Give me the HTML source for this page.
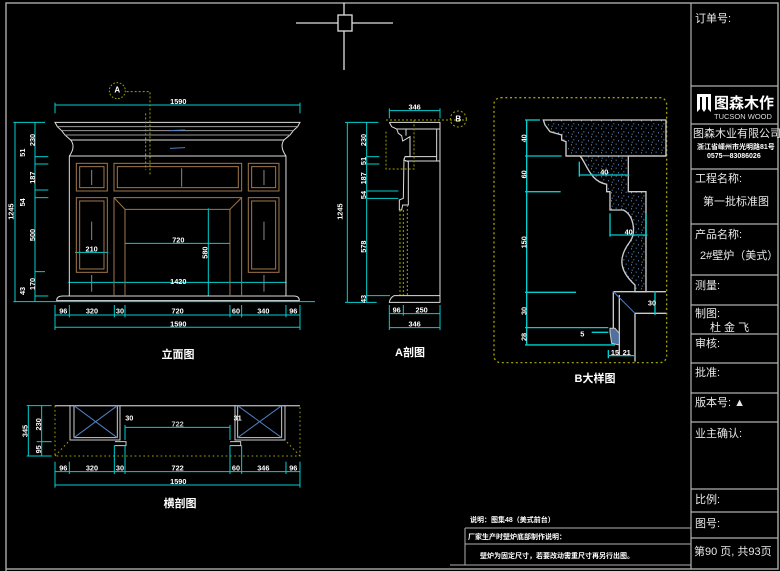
<!DOCTYPE html>
<html><head><meta charset="utf-8"><style>
html,body{margin:0;padding:0;background:#000;}
svg{display:block;}
text{font-family:"Liberation Sans","Noto Sans CJK SC",sans-serif;}
.tb{fill:#e8e8e8;font-size:11px;}
</style></head><body>
<svg width="780" height="571" viewBox="0 0 780 571" xmlns="http://www.w3.org/2000/svg">
<rect width="780" height="571" fill="#000"/>
<!-- frame -->
<path d="M6,571 V3 H778 V569 H6" fill="none" stroke="#a0a0a0" stroke-width="1.5"/>
<!-- crosshair -->
<g stroke="#e0e0e0" stroke-width="1.3" fill="none">
<line x1="344" y1="3" x2="344" y2="70"/><line x1="296" y1="23" x2="393" y2="23"/>
<rect x="338" y="15" width="14" height="16" fill="#000"/>
</g>

<!-- title block -->
<g stroke="#b0b0b0" stroke-width="1.2" fill="none">
<line x1="691" y1="3" x2="691" y2="569"/>
<line x1="691" y1="86" x2="778" y2="86"/><line x1="691" y1="124" x2="778" y2="124"/>
<line x1="691" y1="169" x2="778" y2="169"/><line x1="691" y1="224" x2="778" y2="224"/>
<line x1="691" y1="275" x2="778" y2="275"/><line x1="691" y1="305" x2="778" y2="305"/>
<line x1="691" y1="334" x2="778" y2="334"/><line x1="691" y1="363" x2="778" y2="363"/>
<line x1="691" y1="393" x2="778" y2="393"/><line x1="691" y1="422" x2="778" y2="422"/>
<line x1="691" y1="489" x2="778" y2="489"/><line x1="691" y1="512" x2="778" y2="512"/>
<line x1="691" y1="538" x2="778" y2="538"/>
</g>
<text class="tb" x="695" y="22">订单号:</text>
<path d="M697,94 h14 v18 l-3,-3 v-12 h-2 v12 l-2,3 l-2,-3 v-12 h-2 v12 l-3,3z" fill="#fff"/>
<text x="714" y="108" fill="#fff" font-size="15" font-weight="bold">图森木作</text>
<text x="714" y="119" fill="#ddd" font-size="7.5">TUCSON WOOD</text>
<text class="tb" x="693" y="137">图森木业有限公司</text>
<text x="697" y="149" fill="#fff" font-size="7" font-weight="bold">浙江省嵊州市光明路81号</text>
<text x="707" y="158" fill="#fff" font-size="7" font-weight="bold">0575—83086026</text>
<text class="tb" x="695" y="182">工程名称:</text>
<text class="tb" x="703" y="205">第一批标准图</text>
<text class="tb" x="695" y="238">产品名称:</text>
<text class="tb" x="700" y="259">2#壁炉（美式）</text>
<text class="tb" x="695" y="289">测量:</text>
<text class="tb" x="695" y="317">制图:</text>
<text class="tb" x="710" y="331">杜 金 飞</text>
<text class="tb" x="695" y="347">审核:</text>
<text class="tb" x="695" y="376">批准:</text>
<text class="tb" x="695" y="406">版本号: ▲</text>
<text class="tb" x="695" y="437">业主确认:</text>
<text class="tb" x="695" y="503">比例:</text>
<text class="tb" x="695" y="527">图号:</text>
<text class="tb" x="694" y="555">第90 页, 共93页</text>

<!-- notes -->
<g stroke="#b0b0b0" stroke-width="1" fill="none">
<line x1="465" y1="528" x2="691" y2="528"/><line x1="465" y1="544" x2="691" y2="544"/>
<line x1="450" y1="565" x2="691" y2="565"/><line x1="465" y1="528" x2="465" y2="565"/>
</g>
<text x="470" y="522" fill="#fff" font-size="7" font-weight="bold">说明：图集48（美式前台）</text>
<text x="468" y="539" fill="#fff" font-size="7" font-weight="bold">厂家生产时壁炉底部制作说明：</text>
<text x="480" y="558" fill="#fff" font-size="7" font-weight="bold">壁炉为固定尺寸，若要改动需重尺寸再另行出图。</text>

<!-- FRONT ELEVATION (zoom coords) -->
<g transform="translate(0,80) scale(0.3333)">
<g stroke="#00d0d0" stroke-width="3" fill="none">
<line x1="165" y1="75" x2="900" y2="75"/><line x1="165" y1="68" x2="165" y2="100"/><line x1="900" y1="68" x2="900" y2="100"/>
<line x1="45" y1="127" x2="45" y2="665"/><line x1="105" y1="127" x2="105" y2="665"/>
<line x1="40" y1="127" x2="135" y2="127"/><line x1="105" y1="230" x2="145" y2="230"/><line x1="105" y1="252" x2="145" y2="252"/>
<line x1="105" y1="330" x2="145" y2="330"/><line x1="105" y1="353" x2="145" y2="353"/><line x1="105" y1="575" x2="135" y2="575"/>
<line x1="105" y1="648" x2="145" y2="648"/><line x1="40" y1="665" x2="945" y2="665"/>
<line x1="165" y1="705" x2="900" y2="705"/><line x1="165" y1="742" x2="900" y2="742"/>
<line x1="165" y1="675" x2="165" y2="750"/><line x1="900" y1="675" x2="900" y2="750"/>
<line x1="208" y1="675" x2="208" y2="712"/><line x1="343" y1="675" x2="343" y2="712"/><line x1="375" y1="675" x2="375" y2="712"/>
<line x1="690" y1="675" x2="690" y2="712"/><line x1="725" y1="675" x2="725" y2="712"/><line x1="858" y1="675" x2="858" y2="712"/>
<line x1="375" y1="490" x2="690" y2="490"/><line x1="625" y1="385" x2="625" y2="648"/>
<line x1="205" y1="607" x2="860" y2="607"/><line x1="225" y1="517" x2="325" y2="517"/>
</g>
<g stroke="#ddd" stroke-width="3" fill="none">
<path d="M165,127 L900,127 L893,140 L880,152 L870,165 L852,180 Q838,200 858,228 L858,648 L208,648 L208,228 Q228,200 212,180 L195,165 L185,152 L172,140 Z"/>
<line x1="172" y1="140" x2="893" y2="140" stroke="#999"/><line x1="185" y1="152" x2="880" y2="152" stroke="#999"/>
<line x1="195" y1="165" x2="870" y2="165" stroke="#999"/><line x1="212" y1="180" x2="852" y2="180"/>
<line x1="208" y1="228" x2="858" y2="228"/>
<path d="M170,662 Q170,648 188,648 L882,648 Q898,648 898,662 Z"/>
</g>
<g stroke="#a0784c" stroke-width="3" fill="none">
<rect x="229" y="250" width="93" height="83"/><rect x="239" y="260" width="73" height="63"/>
<rect x="342" y="250" width="383" height="83"/><rect x="352" y="260" width="363" height="63"/>
<rect x="745" y="250" width="92" height="83"/><rect x="755" y="260" width="72" height="63"/>
<rect x="229" y="353" width="93" height="224"/><rect x="239" y="363" width="73" height="204"/>
<rect x="745" y="353" width="92" height="224"/><rect x="755" y="363" width="72" height="204"/>
<path d="M342,648 V353 H725 V648"/><path d="M375,648 V388 H690 V648"/>
<path d="M342,353 L375,388 M725,353 L690,388"/>
</g>
<g stroke="#888" stroke-width="3"><line x1="275" y1="270" x2="275" y2="315"/><line x1="545" y1="265" x2="545" y2="320"/><line x1="792" y1="270" x2="792" y2="315"/><line x1="275" y1="425" x2="275" y2="480"/><line x1="792" y1="425" x2="792" y2="480"/><line x1="275" y1="585" x2="275" y2="635"/><line x1="792" y1="585" x2="792" y2="635"/></g>
<g stroke="#5080c0" stroke-width="3"><line x1="510" y1="152" x2="555" y2="150"/><line x1="510" y1="205" x2="555" y2="203"/></g>
<path d="M380,35 H450 V285" stroke="#a0a000" stroke-width="3" stroke-dasharray="6,6" fill="none"/>
<line x1="437" y1="100" x2="437" y2="270" stroke="#a0a000" stroke-width="3" stroke-dasharray="6,6"/>
<circle cx="352" cy="32" r="24" stroke="#a0a000" stroke-width="3" stroke-dasharray="5,5" fill="none"/>
<text x="352" y="38" fill="#fff" font-size="24" font-weight="bold" text-anchor="middle">A</text>
<g fill="#fff" font-size="22" font-weight="bold" text-anchor="middle">
<text x="535" y="72">1590</text><text x="535" y="612">1420</text><text x="535" y="488">720</text><text x="275" y="515">210</text>
<text x="190" y="700">96</text><text x="276" y="700">320</text><text x="360" y="700">30</text><text x="533" y="700">720</text><text x="708" y="700">60</text><text x="790" y="700">340</text><text x="880" y="700">96</text>
<text x="535" y="740">1590</text>
<text transform="translate(40,395) rotate(-90)">1245</text><text transform="translate(105,180) rotate(-90)">230</text>
<text transform="translate(105,293) rotate(-90)">187</text><text transform="translate(105,465) rotate(-90)">500</text>
<text transform="translate(105,612) rotate(-90)">170</text><text transform="translate(75,218) rotate(-90)">51</text>
<text transform="translate(75,367) rotate(-90)">54</text><text transform="translate(75,633) rotate(-90)">43</text>
<text transform="translate(623,518) rotate(-90)">580</text>
</g>
</g>
<text x="178" y="358" fill="#fff" font-size="11" font-weight="bold" text-anchor="middle">立面图</text>

<!-- A SECTION -->
<g transform="translate(330,95) scale(0.3333)">
<g stroke="#00d0d0" stroke-width="3" fill="none">
<line x1="178" y1="47" x2="330" y2="47"/><line x1="178" y1="40" x2="178" y2="70"/><line x1="330" y1="40" x2="330" y2="70"/>
<line x1="52" y1="82" x2="52" y2="622"/><line x1="110" y1="82" x2="110" y2="622"/>
<line x1="45" y1="82" x2="145" y2="82"/><line x1="110" y1="185" x2="148" y2="185"/><line x1="110" y1="207" x2="148" y2="207"/>
<line x1="110" y1="288" x2="205" y2="288"/><line x1="110" y1="310" x2="205" y2="310"/><line x1="110" y1="602" x2="180" y2="602"/>
<line x1="45" y1="622" x2="140" y2="622"/>
<line x1="178" y1="656" x2="330" y2="656"/><line x1="178" y1="698" x2="330" y2="698"/>
<line x1="178" y1="630" x2="178" y2="705"/><line x1="330" y1="630" x2="330" y2="705"/><line x1="220" y1="630" x2="220" y2="662"/>
</g>
<g stroke="#ddd" stroke-width="3" fill="none">
<path d="M178,82 H330 V622 H178 Q180,608 192,602 H330"/>
<path d="M178,82 L185,95 L200,102 L205,115 L215,122 L218,138 L240,125 L240,185 L225,185 L222,195 L235,200 L235,330 L218,330 L215,345 L208,345 L208,315 L220,310 L222,190"/>
<line x1="200" y1="102" x2="330" y2="102"/><line x1="320" y1="102" x2="320" y2="198"/><line x1="225" y1="198" x2="330" y2="198"/>
<line x1="225" y1="185" x2="320" y2="185"/><line x1="228" y1="102" x2="228" y2="122"/>
</g>
<g stroke="#a0a000" stroke-width="3" fill="none" stroke-dasharray="6,6">
<path d="M168,75 H410 M168,110 V222 H252 V75"/><line x1="210" y1="345" x2="210" y2="600"/><line x1="220" y1="345" x2="220" y2="600"/><line x1="232" y1="330" x2="232" y2="600"/>
<circle cx="385" cy="72" r="24"/>
</g>
<text x="385" y="80" fill="#fff" font-size="24" font-weight="bold" text-anchor="middle">B</text>
<g fill="#fff" font-size="22" font-weight="bold" text-anchor="middle">
<text x="254" y="44">346</text><text x="200" y="652">96</text><text x="275" y="652">250</text><text x="254" y="695">346</text>
<text transform="translate(38,350) rotate(-90)">1245</text><text transform="translate(108,135) rotate(-90)">230</text>
<text transform="translate(108,250) rotate(-90)">187</text><text transform="translate(108,455) rotate(-90)">578</text>
<text transform="translate(108,198) rotate(-90)">51</text><text transform="translate(108,300) rotate(-90)">54</text><text transform="translate(108,612) rotate(-90)">43</text>
</g>
</g>
<text x="410" y="356" fill="#fff" font-size="11" font-weight="bold" text-anchor="middle">A剖图</text>

<!-- B DETAIL -->
<defs><pattern id="st" width="30" height="24" patternUnits="userSpaceOnUse">
<rect width="30" height="24" fill="#000"/>
<rect x="3" y="4" width="3" height="3" fill="#6aa0e0"/><rect x="17" y="2" width="3" height="3" fill="#6aa0e0"/>
<rect x="10" y="13" width="3" height="3" fill="#6aa0e0"/><rect x="24" y="16" width="3" height="3" fill="#6aa0e0"/>
<rect x="5" y="20" width="3" height="3" fill="#6aa0e0"/></pattern></defs>
<g transform="translate(490,95) scale(0.3333)">
<rect x="12" y="8" width="518" height="795" rx="20" stroke="#a0a000" stroke-width="4" stroke-dasharray="6,8" fill="none"/>
<path d="M160,75 L528,75 L528,183 L415,183 L415,290 L468,290 L468,590 L435,590 L435,570 C380,520 390,480 420,440 C440,410 430,360 400,345 L360,345 L360,290 L350,290 L350,268 C300,260 290,205 270,183 L228,183 L228,140 L215,135 L215,120 L180,110 L165,90 Z" fill="url(#st)" stroke="#ccc" stroke-width="4"/>
<line x1="528" y1="183" x2="228" y2="183" stroke="#ccc" stroke-width="4"/>
<g stroke="#ccc" stroke-width="4" fill="none">
<path d="M370,590 H528 M435,655 H528 M370,590 V700 M388,600 V780 M435,655 V800"/>
</g>
<line x1="370" y1="590" x2="435" y2="655" stroke="#5080c0" stroke-width="3"/>
<path d="M360,700 L375,700 L388,715 L388,750 L365,745 L360,712 Z" fill="#5070a0" stroke="#ccc" stroke-width="3"/>
<g stroke="#00d0d0" stroke-width="4" fill="none">
<line x1="110" y1="75" x2="110" y2="750"/><line x1="105" y1="75" x2="150" y2="75"/>
<line x1="105" y1="183" x2="215" y2="183"/><line x1="105" y1="290" x2="212" y2="290"/><line x1="105" y1="592" x2="258" y2="592"/>
<line x1="105" y1="698" x2="355" y2="698"/><line x1="105" y1="750" x2="375" y2="750"/><line x1="305" y1="712" x2="355" y2="712"/>
<line x1="268" y1="240" x2="418" y2="240"/><line x1="268" y1="200" x2="268" y2="245"/>
<line x1="360" y1="420" x2="472" y2="420"/><line x1="360" y1="355" x2="360" y2="425"/><line x1="468" y1="355" x2="468" y2="425"/>
<line x1="495" y1="588" x2="495" y2="660"/>
<line x1="355" y1="782" x2="435" y2="782"/><line x1="355" y1="765" x2="355" y2="790"/>
</g>
<g fill="#fff" font-size="22" font-weight="bold" text-anchor="middle">
<text transform="translate(110,130) rotate(-90)">40</text><text transform="translate(110,238) rotate(-90)">60</text>
<text transform="translate(110,442) rotate(-90)">150</text><text transform="translate(110,648) rotate(-90)">30</text>
<text transform="translate(110,726) rotate(-90)">28</text>
<text x="343" y="238">40</text><text x="416" y="418">40</text><text x="486" y="632">30</text>
<text x="277" y="725">5</text><text x="375" y="780">15</text><text x="410" y="780">21</text>
</g>
</g>
<text x="595" y="382" fill="#fff" font-size="11" font-weight="bold" text-anchor="middle">B大样图</text>

<!-- PLAN -->
<g transform="translate(0,395) scale(0.3333)">
<line x1="165" y1="32" x2="900" y2="32" stroke="#aaa" stroke-width="4"/>
<g stroke="#ccc" stroke-width="3" fill="none">
<path d="M210,32 V135 H360 V32 M222,32 V128 H352 V32"/>
<path d="M705,32 V135 H855 V32 M713,32 V128 H845 V32"/>
<path d="M345,140 H378 V152 H345 M690,140 H722 V152 H690"/>
</g>
<g stroke="#5080c0" stroke-width="3"><line x1="222" y1="32" x2="352" y2="128"/><line x1="352" y1="32" x2="222" y2="128"/><line x1="713" y1="32" x2="845" y2="128"/><line x1="845" y1="32" x2="713" y2="128"/></g>
<g stroke="#a0a000" stroke-width="3" stroke-dasharray="5,8" fill="none">
<path d="M165,32 V183 H900 V32 M165,183 L210,135 M900,183 L855,135"/>
</g>
<g stroke="#00d0d0" stroke-width="3" fill="none">
<line x1="85" y1="32" x2="85" y2="183"/><line x1="125" y1="32" x2="125" y2="183"/>
<line x1="80" y1="32" x2="155" y2="32"/><line x1="110" y1="140" x2="155" y2="140"/><line x1="80" y1="183" x2="155" y2="183"/>
<line x1="375" y1="97" x2="690" y2="97"/><line x1="375" y1="90" x2="375" y2="135"/><line x1="690" y1="90" x2="690" y2="135"/>
<line x1="343" y1="150" x2="343" y2="237"/><line x1="375" y1="150" x2="375" y2="237"/><line x1="690" y1="150" x2="690" y2="237"/><line x1="725" y1="150" x2="725" y2="237"/>
<line x1="165" y1="230" x2="900" y2="230"/><line x1="165" y1="270" x2="900" y2="270"/>
<line x1="165" y1="200" x2="165" y2="278"/><line x1="900" y1="200" x2="900" y2="278"/><line x1="208" y1="200" x2="208" y2="237"/><line x1="858" y1="200" x2="858" y2="237"/>
</g>
<g fill="#fff" font-size="22" font-weight="bold" text-anchor="middle">
<text x="388" y="76">30</text><text x="533" y="95" fill="#ccc">722</text><text x="713" y="76">31</text>
<text x="190" y="226">96</text><text x="276" y="226">320</text><text x="360" y="226">30</text><text x="533" y="226">722</text><text x="708" y="226">60</text><text x="790" y="226">346</text><text x="880" y="226">96</text>
<text x="535" y="267">1590</text>
<text transform="translate(82,108) rotate(-90)">345</text><text transform="translate(123,88) rotate(-90)">230</text><text transform="translate(123,163) rotate(-90)">95</text>
</g>
</g>
<text x="180" y="507" fill="#fff" font-size="11" font-weight="bold" text-anchor="middle">横剖图</text>
</svg>
</body></html>
